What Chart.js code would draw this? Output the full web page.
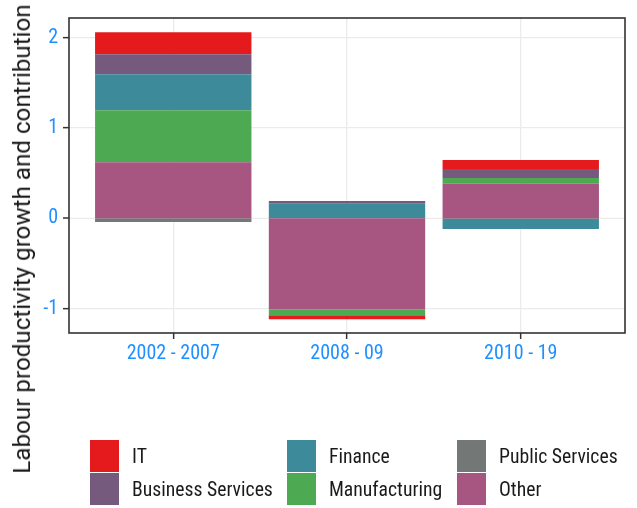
<!DOCTYPE html>
<html>
<head>
<meta charset="utf-8">
<script src="https://cdn.jsdelivr.net/npm/chart.js@4.4.1/dist/chart.umd.min.js"></script>
<style>
  body { margin: 0; background: #fff; }
  #wrap { position: relative; width: 637px; height: 508px; }
  #ytitle {
    position: absolute; left: 22px; top: 239px;
    transform: translate(-50%, -50%) rotate(-90deg);
    white-space: nowrap; font: 24.2px Roboto, sans-serif; color: #1a1a1a;
  }
  #legend {
    position: absolute; left: 90px; top: 440px;
    display: grid; grid-auto-flow: column;
    grid-template-rows: 33px 33px; grid-template-columns: 197px 170px auto;
  }
  .item { display: flex; align-items: center; }
  .key { width: 29px; height: 32px; margin-bottom: 1px; }
  .lab {
    margin-left: 13px; font-family: "Roboto Condensed", "Liberation Sans Narrow", "Arial Narrow", Roboto, sans-serif;
    font-stretch: condensed; font-size: 19.7px; color: #1a1a1a;
  }
</style>
</head>
<body>
<div id="wrap">
  <canvas id="myChart" width="637" height="508"></canvas>
  <div id="ytitle">Labour productivity growth and contribution</div>
  <div id="legend"></div>
</div>
<script>
// periods on the x axis
const categories = ["2002 - 2007", "2008 - 09", "2010 - 19"];

// contributions by sector (percentage points)
const other = [0.623, -1.01, 0.383];
const publicServices = [-0.04, 0, -0.019];
const manufacturing = [0.576, -0.063, 0.063];
const finance = [0.399, 0.162, -0.10];
const businessServices = [0.221, 0.03, 0.10];
const it = [0.244, -0.045, 0.10];

const yTicks = [-1, 0, 1, 2];

// stacking order from zero outwards, legend shows it reversed
const series = [
  { label: "Other", data: other, color: "#A65681" },
  { label: "Public Services", data: publicServices, color: "#737877" },
  { label: "Manufacturing", data: manufacturing, color: "#4DAA52" },
  { label: "Finance", data: finance, color: "#3C8A9A" },
  { label: "Business Services", data: businessServices, color: "#765A7E" },
  { label: "IT", data: it, color: "#E41A1C" },
];

const condensed = '"Roboto Condensed", "Liberation Sans Narrow", "Arial Narrow", Roboto, sans-serif';
const gridColor = "#EBEBEB";
const gridWidth = 1.3;

// zero gridline drawn by hand so that bars don't leave a gap over it
// (chart.js shifts bar bases by half the gridline width)
const zeroLine = {
  id: "zeroLine",
  beforeDatasetsDraw(chart) {
    const { ctx, chartArea: a, scales } = chart;
    const y = scales.y.getPixelForValue(0);
    ctx.save();
    ctx.strokeStyle = gridColor;
    ctx.lineWidth = gridWidth;
    ctx.beginPath();
    ctx.moveTo(a.left, y);
    ctx.lineTo(a.right, y);
    ctx.stroke();
    ctx.restore();
  },
};

// panel border like theme_bw
const panelBorder = {
  id: "panelBorder",
  afterDraw(chart) {
    const { ctx, chartArea: a } = chart;
    ctx.save();
    ctx.strokeStyle = "#333333";
    ctx.lineWidth = 1.6;
    ctx.strokeRect(a.left, a.top, a.right - a.left, a.bottom - a.top);
    ctx.restore();
  },
};

new Chart(document.getElementById("myChart").getContext("2d"), {
  type: "bar",
  plugins: [zeroLine, panelBorder],
  data: {
    datasets: series.map((s) => ({
      label: s.label,
      data: s.data.map((v, i) => ({ x: i + 1, y: v })),
      backgroundColor: s.color,
      borderWidth: 0,
      stack: "all",
      barPercentage: 0.9,
      categoryPercentage: 1,
    })),
  },
  options: {
    responsive: false,
    animation: false,
    layout: { padding: { left: 0, top: 18, right: 12, bottom: 145 } },
    plugins: { legend: { display: false }, tooltip: { enabled: false } },
    scales: {
      x: {
        type: "linear",
        stacked: true,
        offset: false,
        min: 0.4,
        max: 3.6,
        afterBuildTicks: (scale) => { scale.ticks = categories.map((c, i) => ({ value: i + 1 })); },
        afterFit: (scale) => { scale.height = 30; },
        ticks: {
          callback: (v) => categories[v - 1],
          color: "#1E90FF",
          font: { family: condensed, size: 20 },
          padding: 3,
          maxRotation: 0,
        },
        grid: { offset: false, color: gridColor, lineWidth: gridWidth, tickColor: "#333333", tickLength: 6, tickWidth: 1.5 },
        border: { display: false },
      },
      y: {
        stacked: true,
        min: -1.27,
        max: 2.22,
        afterBuildTicks: (scale) => { scale.ticks = yTicks.map((v) => ({ value: v })); },
        afterFit: (scale) => { scale.width = 69; },
        ticks: {
          color: "#1E90FF",
          font: { family: condensed, size: 20 },
          padding: 5,
        },
        grid: {
          color: (c) => (c.tick && c.tick.value === 0 ? "rgba(0,0,0,0)" : gridColor),
          lineWidth: (c) => (c.tick && c.tick.value === 0 ? 0 : gridWidth),
          tickColor: "#333333",
          tickLength: 6,
          tickWidth: 1.5,
        },
        border: { display: false },
      },
    },
  },
});

// legend, column-wise like the ggplot guide
const legend = document.getElementById("legend");
series.slice().reverse().forEach((s) => {
  const item = document.createElement("div");
  item.className = "item";
  item.innerHTML = '<div class="key" style="background:' + s.color + '"></div><span class="lab">' + s.label + "</span>";
  legend.appendChild(item);
});
</script>
</body>
</html>
